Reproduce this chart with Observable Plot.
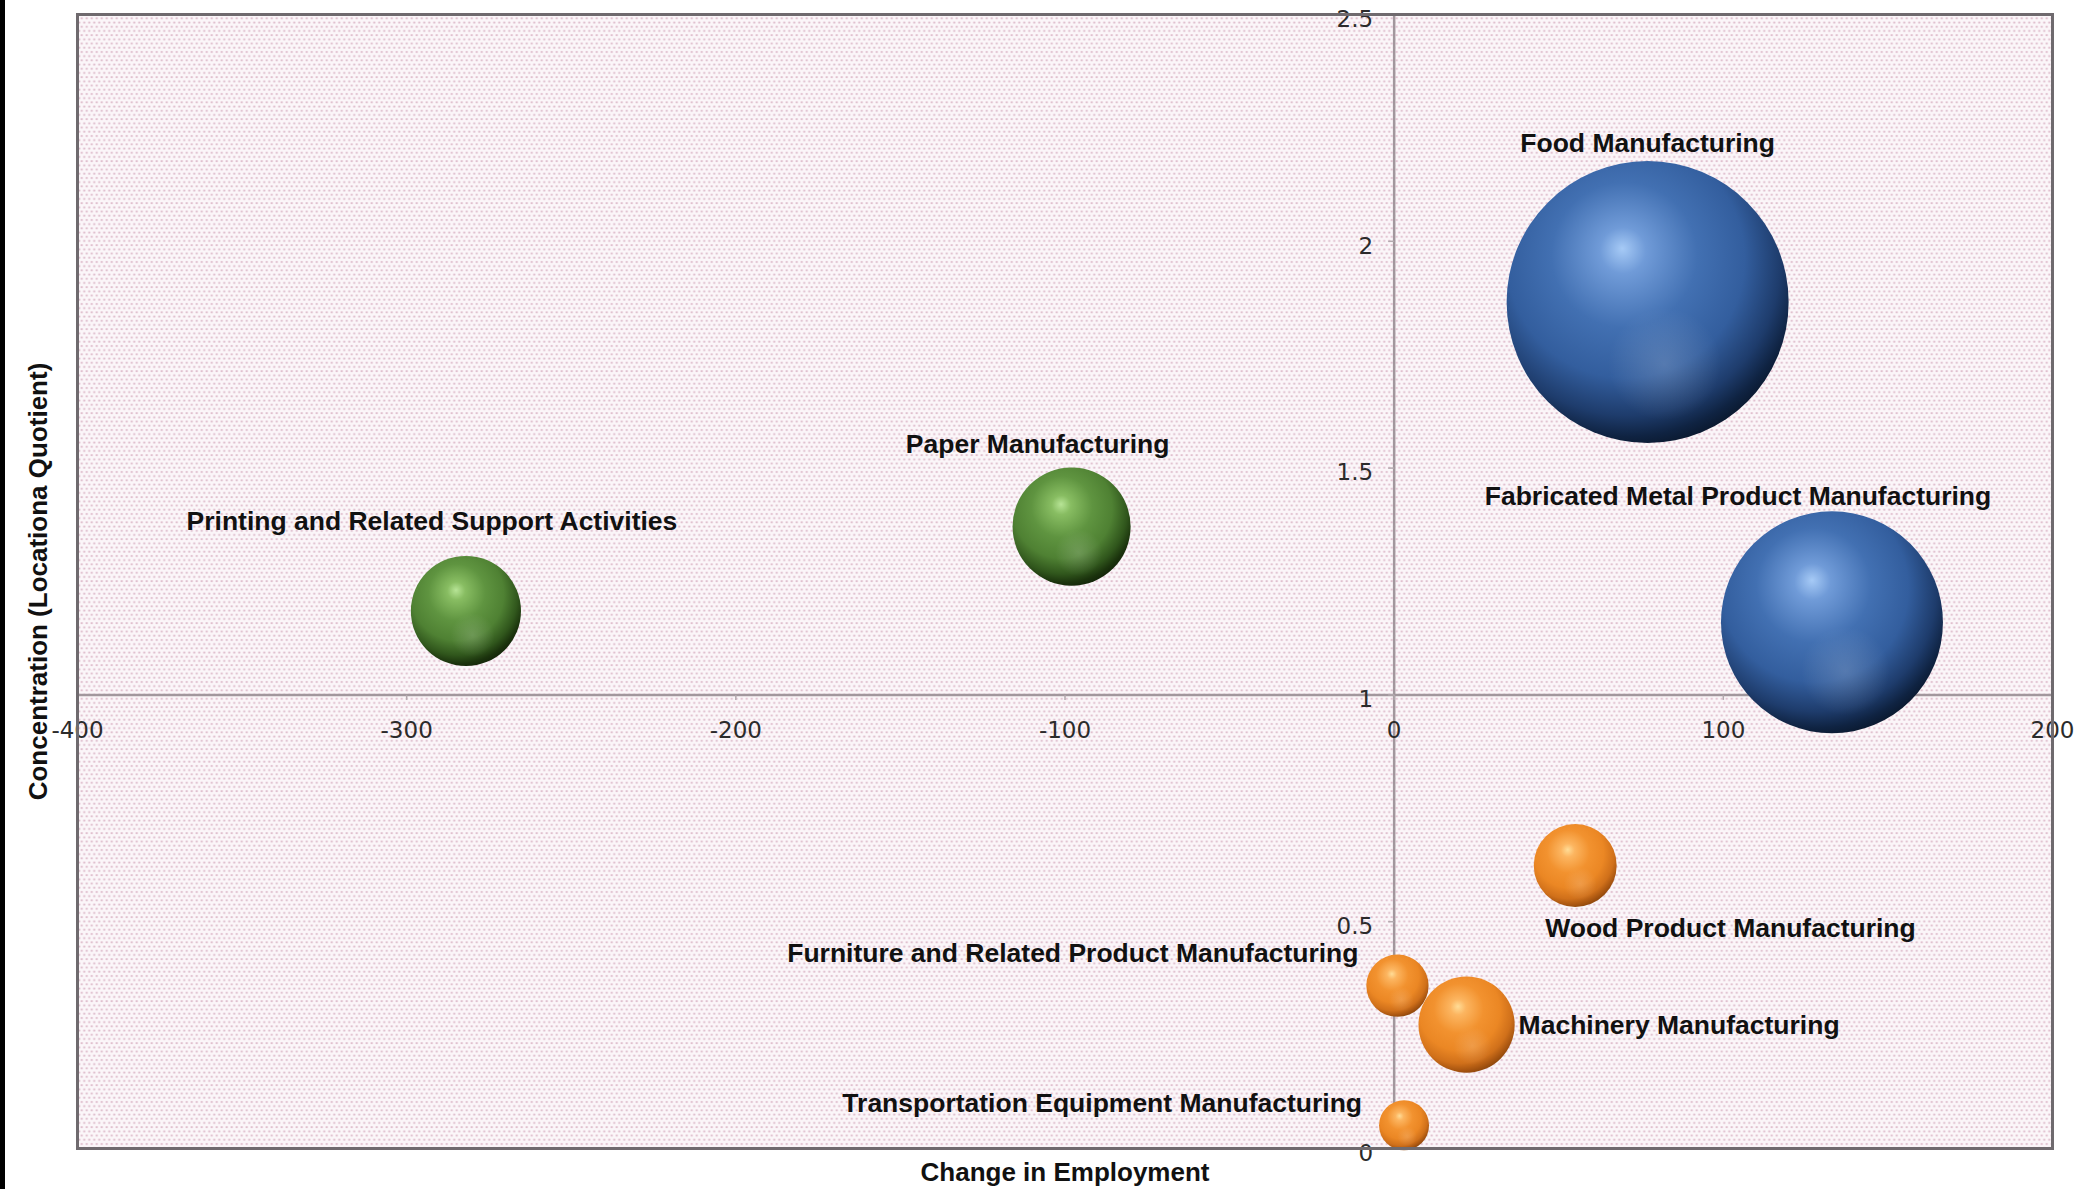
<!DOCTYPE html>
<html><head><meta charset="utf-8">
<script src="https://cdn.jsdelivr.net/npm/d3@7"></script>
<script src="https://cdn.jsdelivr.net/npm/@observablehq/plot@0.6"></script>
<style>
html,body{margin:0;padding:0;background:#fff;}
#chart{position:absolute;left:0;top:0;}
#strip{position:absolute;left:0;top:0;width:5px;height:1189px;background:#000;}
</style></head><body>
<div id="chart"></div><div id="strip"></div>
<script>
// ---- data ----
const industries = [
  "Food Manufacturing",
  "Fabricated Metal Product Manufacturing",
  "Paper Manufacturing",
  "Printing and Related Support Activities",
  "Wood Product Manufacturing",
  "Furniture and Related Product Manufacturing",
  "Machinery Manufacturing",
  "Transportation Equipment Manufacturing"
];
const employmentChange = [77, 133, -98, -282, 55, 1, 22, 3];
const locationQuotient = [1.866, 1.16, 1.371, 1.185, 0.624, 0.359, 0.273, 0.051];
const employment = [6360, 3940, 1115, 970, 550, 310, 740, 200];
const cluster = ["Star", "Star", "Mature", "Mature", "Emerging", "Emerging", "Emerging", "Emerging"];
const xTicks = [-400, -300, -200, -100, 0, 100, 200];
const yTicks = [0, 0.5, 1, 1.5, 2, 2.5];
const xTitle = "Change in Employment";
const yTitle = "Concentration (Locationa Quotient)";

// ---- styles / layout ----
const clusterFill = {Star: "url(#gBlue)", Mature: "url(#gGreen)", Emerging: "url(#gOrange)"};
const labelPlacement = {
  "Food Manufacturing": {dx: 0, dy: -159, anchor: "middle"},
  "Fabricated Metal Product Manufacturing": {dx: -94, dy: -126, anchor: "middle"},
  "Paper Manufacturing": {dx: -34, dy: -82, anchor: "middle"},
  "Printing and Related Support Activities": {dx: -34, dy: -89, anchor: "middle"},
  "Wood Product Manufacturing": {dx: -30, dy: 63, anchor: "start"},
  "Furniture and Related Product Manufacturing": {dx: -39, dy: -32, anchor: "end"},
  "Machinery Manufacturing": {dx: 52, dy: 1, anchor: "start"},
  "Transportation Equipment Manufacturing": {dx: -42, dy: -22, anchor: "end"}
};
const boldFont = "Liberation Sans, Arial, Helvetica, sans-serif";
const tickFont = "DejaVu Sans, sans-serif";

const rows = industries.map((name, i) => ({
  name, x: employmentChange[i], y: locationQuotient[i], size: employment[i], cluster: cluster[i]
}));

const tickMarkLeft = {draw(ctx, size) { ctx.moveTo(-6, 0); ctx.lineTo(0, 0); }};
const tickMarkDown = {draw(ctx, size) { ctx.moveTo(0, 0); ctx.lineTo(0, 5); }};

const marks = [
  Plot.frame({fill: "url(#dots)"}),
  Plot.ruleX([0], {stroke: "#a2979d", strokeWidth: 2.5}),
  Plot.ruleY([1], {stroke: "#a2979d", strokeWidth: 2.5}),
  Plot.dot(yTicks, {x: 0, y: d => d, symbol: tickMarkLeft, r: 3, stroke: "#b3a9ae", strokeWidth: 1.5, fill: "none"}),
  Plot.dot(xTicks, {x: d => d, y: 1, symbol: tickMarkDown, r: 3, stroke: "#b3a9ae", strokeWidth: 1.5, fill: "none"}),
  Plot.text(xTicks, {x: d => d, y: 1, text: d => String(d), dy: 36, fontFamily: tickFont, fontSize: 23, fill: "#2b2b2b"}),
  Plot.text(yTicks, {x: 0, y: d => d, text: d => String(d), dx: -21, dy: 5, textAnchor: "end", fontFamily: tickFont, fontSize: 23, fill: "#2b2b2b"}),
  ...Object.keys(clusterFill).map(c =>
    Plot.dot(rows.filter(d => d.cluster === c), {x: "x", y: "y", r: "size", fill: clusterFill[c], stroke: "none", sort: null})
  ),
  Plot.dot(rows, {x: "x", y: "y", r: "size", fill: "url(#gRefl)", stroke: "none", sort: null}),
  ...rows.map(d => {
    const p = labelPlacement[d.name];
    return Plot.text([d], {x: "x", y: "y", text: "name", dx: p.dx, dy: p.dy, textAnchor: p.anchor,
      fontFamily: boldFont, fontWeight: "bold", fontSize: 26.5, fill: "#111"});
  }),
  Plot.frame({stroke: "#6f6a6e", strokeWidth: 3}),
  Plot.text([xTitle], {frameAnchor: "bottom", text: d => d, dy: 32, textAnchor: "middle", fontFamily: boldFont, fontWeight: "bold", fontSize: 26, fill: "#111"}),
  Plot.text([yTitle], {frameAnchor: "left", text: d => d, dx: -39, rotate: -90, textAnchor: "middle", fontFamily: boldFont, fontWeight: "bold", fontSize: 26, fill: "#111"})
];

const svg = Plot.plot({
  width: 2084,
  height: 1189,
  marginLeft: 77,
  marginRight: 32,
  marginTop: 14,
  marginBottom: 41,
  x: {domain: [-400, 200], axis: null},
  y: {domain: [0, 2.5], axis: null},
  r: {type: "sqrt", domain: [0, 6360], range: [0, 141]},
  style: {background: "transparent", overflow: "visible"},
  marks
});

const defs = d3.select(svg).insert("defs", ":first-child");
const pat = defs.append("pattern").attr("id", "dots").attr("patternUnits", "userSpaceOnUse")
  .attr("width", 5).attr("height", 8.4);
pat.append("rect").attr("width", 5).attr("height", 8.4).attr("fill", "#fbf6f9");
pat.append("circle").attr("cx", 1.25).attr("cy", 1.05).attr("r", 1.05).attr("fill", "#dcb7c8");
pat.append("circle").attr("cx", 3.75).attr("cy", 5.25).attr("r", 1.05).attr("fill", "#dcb7c8");

function sphere(id, stops) {
  const g = defs.append("radialGradient").attr("id", id)
    .attr("cx", 0.43).attr("cy", 0.37).attr("r", 0.68).attr("fx", 0.41).attr("fy", 0.31);
  stops.forEach(([o, c]) => g.append("stop").attr("offset", o).attr("stop-color", c));
}
sphere("gBlue", [[0, "#a6caf6"], [0.12, "#709bd8"], [0.38, "#4270b2"], [0.62, "#335e9e"], [0.8, "#1e3c6c"], [0.9, "#0f2342"], [1, "#071222"]]);
sphere("gGreen", [[0, "#b7e496"], [0.12, "#88bd62"], [0.38, "#5f9440"], [0.62, "#4f8133"], [0.8, "#30561c"], [0.9, "#1b330d"], [1, "#0e1c06"]]);
sphere("gOrange", [[0, "#ffdc96"], [0.12, "#fcb560"], [0.38, "#f2922f"], [0.62, "#eb8724"], [0.8, "#d0701a"], [0.9, "#a85510"], [1, "#7a3d08"]]);
const refl = defs.append("radialGradient").attr("id", "gRefl").attr("cx", 0.56).attr("cy", 0.72).attr("r", 0.2);
refl.append("stop").attr("offset", 0).attr("stop-color", "#ffffff").attr("stop-opacity", 0.16);
refl.append("stop").attr("offset", 1).attr("stop-color", "#ffffff").attr("stop-opacity", 0);

document.getElementById("chart").appendChild(svg);
</script></body></html>
